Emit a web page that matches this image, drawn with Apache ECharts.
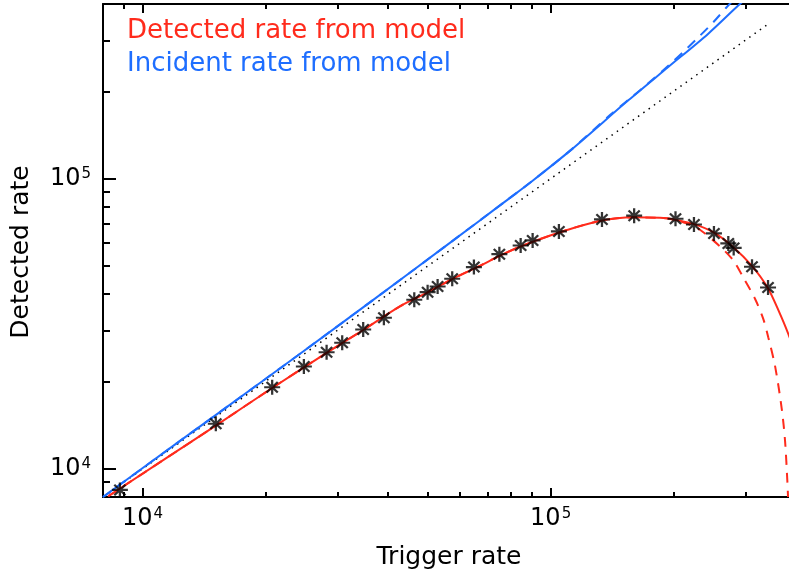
<!DOCTYPE html>
<html><head><meta charset="utf-8">
<script src="https://cdn.jsdelivr.net/npm/echarts@6/dist/echarts.min.js"></script>
<style>html,body{margin:0;padding:0;background:#fff}#c{width:789px;height:581px}</style>
</head><body><div id="c"></div>
<script>
// Measured points (asterisks)
const triggerRate = [8800, 15120, 20780, 24850, 28250, 30850, 34730, 39030, 46330, 49950, 52850, 57390, 64860, 74880, 84440, 90340, 104780, 133600, 160200, 202300, 224500, 251300, 272500, 280900, 311500, 341000];
const detectedRate = [8465, 14300, 19110, 22530, 25240, 27200, 30220, 33170, 38260, 40640, 42520, 45200, 49580, 54950, 58880, 61270, 65810, 72390, 74600, 72780, 69560, 64770, 59830, 57730, 49740, 42190];

// Detected rate from model (red solid)
const detModelX = [8240, 15120, 20780, 28250, 34730, 42720, 49950, 57390, 67090, 75120, 84100, 105400, 132100, 159400, 185300, 199800, 223600, 250300, 280300, 310900, 340400, 364800, 382300, 390000];
const detModelY = [8050, 14100, 19000, 25100, 30100, 36300, 40600, 45100, 50100, 54300, 58300, 65400, 71500, 73600, 73300, 72400, 69900, 65400, 58100, 50200, 42100, 34200, 29200, 27000];
// Detected rate, dashed model
const detDashX = [8240, 15120, 20780, 28250, 34730, 42720, 49950, 57390, 67090, 75120, 84100, 105400, 132100, 159400, 185300, 199800, 215000, 232200, 260000, 280300, 297700, 316800, 331900, 341400, 355000, 368400, 375300, 380200, 381700];
const detDashY = [8050, 14100, 19000, 25100, 30100, 36300, 40600, 45100, 50100, 54300, 58300, 65400, 71500, 73600, 73300, 72400, 70200, 66690, 58420, 52270, 45200, 38580, 32900, 28430, 22500, 16100, 12520, 9110, 8000];

// Incident rate from model (blue solid)
const incModelX = [8000, 12000, 20000, 29000, 45000, 67090, 78030, 90500, 112600, 155000, 194200, 243400, 288600, 300000];
const incModelY = [8000, 12120, 20400, 29900, 47200, 71800, 84200, 98600, 126200, 186200, 242600, 316200, 396000, 415000];
// Incident rate, dashed model
const incDashX = [8000, 12000, 20000, 29000, 45000, 67090, 78030, 90500, 112600, 140000, 166200, 196000, 212600, 230500, 249900, 268900, 280000];
const incDashY = [8000, 12120, 20400, 29900, 47200, 71800, 84200, 98600, 126200, 166000, 202700, 247800, 275400, 307800, 345100, 387500, 412000];

// Identity line (dotted)
const identityX = [8000, 340000];
const identityY = [8000, 340000];

// Ticks
const majorTicks = [10000, 100000];
const minorTicks = [9000, 20000, 30000, 40000, 50000, 60000, 70000, 80000, 90000, 200000, 300000];
const tickExponent = {10000: '4', 100000: '5'};

const legendTexts = ['Detected rate from model', 'Incident rate from model'];
const xTitle = 'Trigger rate';
const yTitle = 'Detected rate';

const RED = '#ff2b1c', BLUE = '#1e6eff';
const FONT = 'DejaVu Sans';
const zip = (a, b) => a.map((v, i) => [v, b[i]]);

const labelCfg = (m) => ({
  show: true, customValues: majorTicks, margin: m,
  formatter: v => '{b|10}{s|' + tickExponent[Math.round(v)] + '}',
  rich: {
    b: { fontSize: 24, fontFamily: FONT, color: '#000', verticalAlign: 'bottom' },
    s: { fontSize: 15, fontFamily: FONT, color: '#000', verticalAlign: 'top', padding: [0, 0, 8, 1] }
  }
});
function axisPair(dim, pos, withLabel, max) {
  const base = { type: 'log', min: 8000, max: max, position: pos, splitLine: { show: false }, gridIndex: 0 };
  const major = Object.assign({}, base, {
    axisLine: { show: true, lineStyle: { color: '#000', width: 2 } },
    axisTick: { show: true, inside: true, length: dim === 'x' ? 9 : 13, customValues: majorTicks, lineStyle: { color: '#000', width: 2 } },
    axisLabel: withLabel ? labelCfg(dim === 'x' ? 10 : 12) : { show: false }
  });
  const minor = Object.assign({}, base, {
    axisLine: { show: false },
    axisTick: { show: true, inside: true, length: dim === 'x' ? 5 : 7, customValues: minorTicks, lineStyle: { color: '#000', width: 2 } },
    axisLabel: { show: false }
  });
  return [major, minor];
}

const X_MAX = 383800;
const Y_MAX = 400000;
const chart = echarts.init(document.getElementById('c'), null, { renderer: 'canvas' });
chart.setOption({
  animation: false,
  backgroundColor: '#fff',
  grid: { left: 103, top: 4, right: 0, bottom: 84, containLabel: false },
  xAxis: [...axisPair('x', 'bottom', true, X_MAX), ...axisPair('x', 'top', false, X_MAX)],
  yAxis: axisPair('y', 'left', true, Y_MAX),
  series: [
    { type: 'line', data: zip(identityX, identityY), showSymbol: false, lineStyle: { color: '#000', width: 1.5, type: [1.5, 5] }, z: 1 },
    { type: 'line', data: zip(incDashX, incDashY), showSymbol: false, smooth: 0.3, lineStyle: { color: BLUE, width: 2, type: [10, 8] } },
    { type: 'line', data: zip(incModelX, incModelY), showSymbol: false, smooth: 0.3, lineStyle: { color: BLUE, width: 2 } },
    { type: 'line', data: zip(detDashX, detDashY), showSymbol: false, smooth: 0.3, lineStyle: { color: RED, width: 2, type: [10, 8] } },
    { type: 'line', data: zip(detModelX, detModelY), showSymbol: false, smooth: 0.3, lineStyle: { color: RED, width: 2 } },
    { type: 'scatter', data: zip(triggerRate, detectedRate), symbol: 'path://M6,0L6,12M0,6L12,6M1.8,1.8L10.2,10.2M1.8,10.2L10.2,1.8', symbolSize: [16, 15],
      itemStyle: { color: '#000', borderColor: '#000', borderWidth: 2.2 }, z: 5 }
  ],
  graphic: [
    { type: 'text', left: 127, top: 18, style: { text: legendTexts[0], fill: RED, font: '26px "DejaVu Sans"' } },
    { type: 'text', left: 127, top: 51, style: { text: legendTexts[1], fill: BLUE, font: '26px "DejaVu Sans"' } },
    { type: 'text', x: 449, y: 557, style: { text: xTitle, fill: '#000', font: '25px "DejaVu Sans"', align: 'center', verticalAlign: 'middle' } },
    { type: 'text', x: 21, y: 252, rotation: Math.PI / 2, style: { text: yTitle, fill: '#000', font: '25px "DejaVu Sans"', align: 'center', verticalAlign: 'middle' } }
  ]
});
</script></body></html>
